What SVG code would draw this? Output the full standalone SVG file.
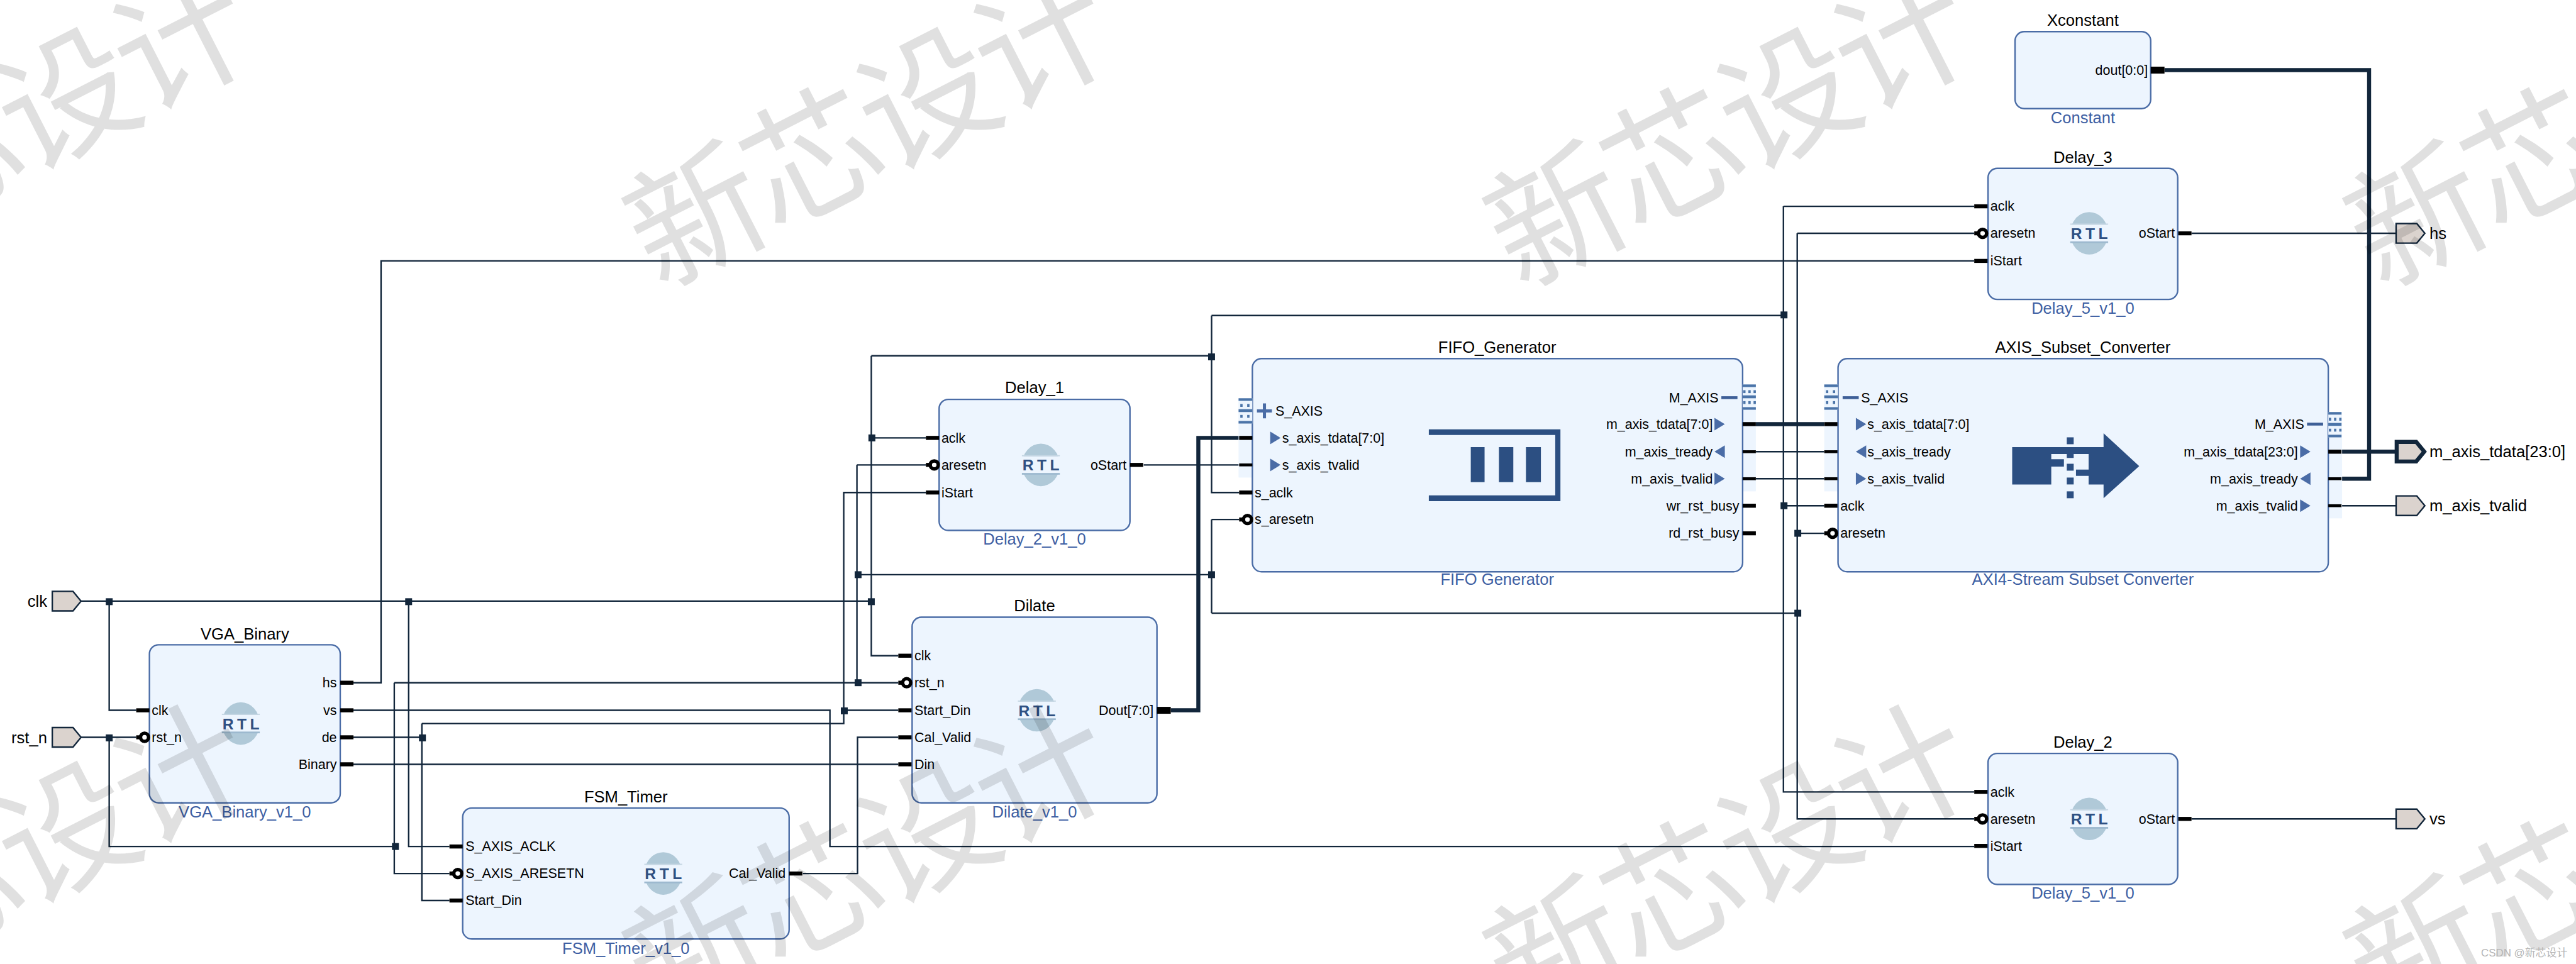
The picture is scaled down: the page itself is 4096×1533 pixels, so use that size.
<svg xmlns="http://www.w3.org/2000/svg" xmlns:xlink="http://www.w3.org/1999/xlink" width="4096" height="1533" viewBox="0 0 4096 1533">
<style>
text{font-family:"Liberation Sans",Arial,"Noto Sans CJK SC",sans-serif;fill:#000}
.t{font-size:28px;text-anchor:middle}
.u{font-size:28px;text-anchor:middle;fill:#3e5fa3}
.p{font-size:23.5px}
.e{text-anchor:end}
.x{font-size:28px}
.box{fill:#edf5fe;stroke:#4a6ca6;stroke-width:2.6}
.w{fill:none;stroke:#12263b;stroke-width:2.6}
.b{fill:none;stroke:#12263b;stroke-width:7}
.ifc{fill:#edf5fe}
.ic{fill:#2c4f82}
.tri{fill:#4a6ca6}
.rtl{font-size:27px;font-weight:bold;fill:#2f5082;letter-spacing:6px}
.wm{font-family:"Noto Sans CJK SC",sans-serif;font-size:235px;letter-spacing:-10px;fill:#000;fill-opacity:.12;text-anchor:middle}
.port{fill:#dbd3ce;stroke:#12263b;stroke-width:2.6}
</style>
<defs>
<rect id="pin" x="0" y="-3.5" width="23" height="7" fill="#000"/>
<rect id="pinb" x="0" y="-2.5" width="23" height="5" fill="#000"/>
<rect id="pinw" x="0" y="-6" width="24" height="12" fill="#000"/>
<g id="bub"><rect x="0" y="-3.5" width="14" height="7" fill="#000"/><circle cx="14.5" cy="0" r="7" fill="#fff" stroke="#000" stroke-width="6"/></g>
<rect id="j" x="-6" y="-6" width="12" height="12" fill="#12263b"/>
<g id="logo"><ellipse cx="0" cy="0" rx="33" ry="37" fill="#b0c9d8"/><rect x="-34" y="-15" width="68" height="30" fill="#edf5fe"/><rect x="-33" y="-17" width="66" height="2" fill="#c5d6e3"/><rect x="-33" y="14" width="66" height="3" fill="#9db9cf"/></g>
<g id="ifl"><rect x="0" y="0" width="24" height="44" fill="#edf5fe"/><rect width="24" height="4.5" fill="#4b74a8"/><rect y="19" width="24" height="5" fill="#4b74a8"/><rect y="39.5" width="24" height="4.5" fill="#4b74a8"/><rect x="3" y="10" width="4" height="5" fill="#4b74a8"/><rect x="15" y="10" width="4" height="5" fill="#4b74a8"/><rect x="3" y="29" width="4" height="5" fill="#4b74a8"/><rect x="15" y="29" width="4" height="5" fill="#4b74a8"/></g>
<g id="ifr"><rect x="0" y="0" width="23" height="44" fill="#edf5fe"/><rect width="23" height="4.5" fill="#4b74a8"/><rect y="19" width="23" height="5" fill="#4b74a8"/><rect y="39.5" width="23" height="4.5" fill="#4b74a8"/><rect x="1" y="10" width="4" height="5" fill="#4b74a8"/><rect x="10" y="10" width="4" height="5" fill="#4b74a8"/><rect x="19" y="10" width="4" height="5" fill="#4b74a8"/><rect x="1" y="29" width="4" height="5" fill="#4b74a8"/><rect x="10" y="29" width="4" height="5" fill="#4b74a8"/><rect x="19" y="29" width="4" height="5" fill="#4b74a8"/></g>
<path id="ar" class="tri" d="M0 -11L18 0L0 11Z"/>
<path id="al" class="tri" d="M18 -11L0 0L18 11Z"/>
<rect id="minus" x="0" y="-2.5" width="28" height="5" fill="#3e5f97"/>
<path id="ext" class="port" d="M0 -17H36L50 0L36 17H0Z"/>
</defs>
<rect width="4096" height="1533" fill="#fff"/>
<g transform="scale(0.91388)">
<g id="connectors">
<path class="w" d="M141 1046H1516M190 1046V1236H237M711 1046V1473H782M1516 619V1141H1563M1516 762H1611M1516 619H2108M2108 549V857H2156M2108 549H3103M3103 359V1378H3435M3103 359H3435M3103 880H3174"/>
<path class="w" d="M141 1283H237M190 1283V1473H686M686 1188V1520H782M686 1188H1563M1491 809V1188M1491 809H1611M1491 1000H2108M2108 904V1067M2108 904H2156M2108 1067H3127M3127 406V1425H3435M3127 406H3435M3127 928H3174"/>
<path class="w" d="M615 1236H1444V1473H3435M615 1188H663V454H3435M615 1283H734M734 1259V1567H782M734 1259H1468V857H1611M1468 1236H1563M615 1330H1563M1397 1520H1492V1283H1563M1990 809H2156M3055 786H3174M3055 833H3174M4075 880H4169M3813 406H4169M3813 1425H4169"/>
<path class="b" d="M2037 1236H2085V762H2156M3055 738H3174M4075 786H4170M4075 833H4122V122H3766"/>
<use href="#j" x="190" y="1047"/><use href="#j" x="711" y="1047"/><use href="#j" x="1516" y="1047"/><use href="#j" x="1517" y="762"/><use href="#j" x="2108" y="621"/><use href="#j" x="3104" y="548"/><use href="#j" x="3104" y="880"/>
<use href="#j" x="190" y="1284"/><use href="#j" x="688" y="1473"/><use href="#j" x="1493" y="1000"/><use href="#j" x="1493" y="1188"/><use href="#j" x="2108" y="1000"/><use href="#j" x="3128" y="1067"/><use href="#j" x="3128" y="928"/>
<use href="#j" x="735" y="1284"/><use href="#j" x="1469" y="1237"/>
</g>

<g id="port-clk"><use href="#ext" x="91" y="1046"/><text class="x e" x="82" y="1056">clk</text></g>
<g id="port-rst_n"><use href="#ext" x="91" y="1283"/><text class="x e" x="82" y="1293">rst_n</text></g>
<g id="port-hs"><use href="#ext" x="4169" y="406"/><text class="x" x="4227" y="416">hs</text></g>
<g id="port-vs"><use href="#ext" x="4169" y="1425"/><text class="x" x="4227" y="1435">vs</text></g>
<g id="port-m_axis_tvalid"><use href="#ext" x="4169" y="880"/><text class="x" x="4227" y="890">m_axis_tvalid</text></g>
<g id="port-m_axis_tdata"><path class="port" style="stroke-width:7" d="M4170 769H4204L4218 786L4204 803H4170Z"/><text class="x" x="4227" y="796">m_axis_tdata[23:0]</text></g>

<g id="VGA_Binary">
<text class="t" x="426" y="1113">VGA_Binary</text>
<rect class="box" x="260" y="1122" width="332" height="275" rx="16"/>
<use href="#pin" x="237" y="1236"/><use href="#bub" x="237" y="1283"/>
<use href="#pin" x="592" y="1188"/><use href="#pin" x="592" y="1236"/><use href="#pin" x="592" y="1283"/><use href="#pin" x="592" y="1330"/>
<text class="p" x="264" y="1244">clk</text><text class="p" x="264" y="1291">rst_n</text>
<text class="p e" x="586" y="1196">hs</text><text class="p e" x="586" y="1244">vs</text><text class="p e" x="586" y="1291">de</text><text class="p e" x="586" y="1338">Binary</text>
<use href="#logo" x="419" y="1259"/><text class="rtl" x="387" y="1269">RTL</text>
<text class="u" x="426" y="1423">VGA_Binary_v1_0</text>
</g>

<g id="FSM_Timer">
<text class="t" x="1089" y="1396">FSM_Timer</text>
<rect class="box" x="805" y="1406" width="568" height="228" rx="16"/>
<use href="#pin" x="782" y="1473"/><use href="#bub" x="782" y="1520"/><use href="#pin" x="782" y="1567"/><use href="#pin" x="1373" y="1520"/>
<text class="p" x="810" y="1481">S_AXIS_ACLK</text><text class="p" x="810" y="1528">S_AXIS_ARESETN</text><text class="p" x="810" y="1575">Start_Din</text>
<text class="p e" x="1367" y="1528">Cal_Valid</text>
<use href="#logo" x="1154" y="1520"/><text class="rtl" x="1122" y="1530">RTL</text>
<text class="u" x="1089" y="1660">FSM_Timer_v1_0</text>
</g>

<g id="Delay_1">
<text class="t" x="1800" y="684">Delay_1</text>
<rect class="box" x="1634" y="695" width="332" height="228" rx="16"/>
<use href="#pin" x="1611" y="762"/><use href="#bub" x="1611" y="809"/><use href="#pin" x="1611" y="857"/><use href="#pin" x="1966" y="809"/>
<text class="p" x="1638" y="770">aclk</text><text class="p" x="1638" y="817">aresetn</text><text class="p" x="1638" y="865">iStart</text>
<text class="p e" x="1960" y="817">oStart</text>
<use href="#logo" x="1811" y="809"/><text class="rtl" x="1779" y="819">RTL</text>
<text class="u" x="1800" y="948">Delay_2_v1_0</text>
</g>

<g id="Dilate">
<text class="t" x="1800" y="1064">Dilate</text>
<rect class="box" x="1587" y="1074" width="426" height="323" rx="16"/>
<use href="#pin" x="1563" y="1141"/><use href="#bub" x="1563" y="1188"/><use href="#pin" x="1563" y="1236"/><use href="#pin" x="1563" y="1283"/><use href="#pin" x="1563" y="1330"/><use href="#pinw" x="2013" y="1236"/>
<text class="p" x="1591" y="1149">clk</text><text class="p" x="1591" y="1196">rst_n</text><text class="p" x="1591" y="1244">Start_Din</text><text class="p" x="1591" y="1291">Cal_Valid</text><text class="p" x="1591" y="1338">Din</text>
<text class="p e" x="2007" y="1244">Dout[7:0]</text>
<use href="#logo" x="1804" y="1236"/><text class="rtl" x="1772" y="1246">RTL</text>
<text class="u" x="1800" y="1422">Dilate_v1_0</text>
</g>

<g id="FIFO_Generator">
<text class="t" x="2605" y="614">FIFO_Generator</text>
<rect class="ifc" x="2155" y="693" width="24" height="138"/><rect class="ifc" x="3032" y="669" width="23" height="186"/>
<rect class="box" x="2179" y="624" width="853" height="371" rx="16"/>
<use href="#ifl" x="2155" y="693"/><use href="#ifr" x="3032" y="669"/>
<path d="M2187 715H2213M2200 702V728" stroke="#4a6ca6" stroke-width="5.5" fill="none"/>
<use href="#minus" x="2995" y="692"/>
<use href="#pin" x="2156" y="762"/><use href="#pinb" x="2156" y="809"/><use href="#pin" x="2156" y="857"/><use href="#bub" x="2156" y="904"/>
<use href="#pin" x="3032" y="738"/><use href="#pinb" x="3032" y="786"/><use href="#pinb" x="3032" y="833"/><use href="#pin" x="3032" y="880"/><use href="#pin" x="3032" y="928"/>
<use href="#ar" x="2210" y="762"/><use href="#ar" x="2210" y="809"/><use href="#ar" x="2983" y="738"/><use href="#al" x="2983" y="786"/><use href="#ar" x="2983" y="833"/>
<text class="p" x="2219" y="723">S_AXIS</text><text class="p" x="2231" y="770">s_axis_tdata[7:0]</text><text class="p" x="2231" y="817">s_axis_tvalid</text><text class="p" x="2183" y="865">s_aclk</text><text class="p" x="2183" y="912">s_aresetn</text>
<text class="p e" x="2990" y="700">M_AXIS</text><text class="p e" x="2980" y="746">m_axis_tdata[7:0]</text><text class="p e" x="2980" y="794">m_axis_tready</text><text class="p e" x="2980" y="841">m_axis_tvalid</text><text class="p e" x="3026" y="888">wr_rst_busy</text><text class="p e" x="3026" y="936">rd_rst_busy</text>
<path class="ic" d="M2486 747H2715V872H2486V862H2706V757H2486Z"/>
<rect class="ic" x="2559" y="778" width="24" height="61"/><rect class="ic" x="2608" y="778" width="25" height="61"/><rect class="ic" x="2655" y="778" width="26" height="61"/>
<text class="u" x="2605" y="1018">FIFO Generator</text>
</g>

<g id="AXIS_Subset_Converter">
<text class="t" x="3624" y="614">AXIS_Subset_Converter</text>
<rect class="ifc" x="3174" y="669" width="24" height="186"/><rect class="ifc" x="4051" y="717" width="24" height="185"/>
<rect class="box" x="3198" y="624" width="853" height="371" rx="16"/>
<use href="#ifl" x="3174" y="669"/><use href="#ifr" x="4051" y="717"/>
<use href="#minus" x="3206" y="692"/><use href="#minus" x="4014" y="738"/>
<use href="#pin" x="3174" y="738"/><use href="#pinb" x="3174" y="786"/><use href="#pinb" x="3174" y="833"/><use href="#pin" x="3174" y="880"/><use href="#bub" x="3174" y="928"/>
<use href="#pin" x="4051" y="786"/><use href="#pinb" x="4051" y="833"/><use href="#pinb" x="4051" y="880"/>
<use href="#ar" x="3229" y="738"/><use href="#al" x="3229" y="786"/><use href="#ar" x="3229" y="833"/>
<use href="#ar" x="4002" y="786"/><use href="#al" x="4002" y="833"/><use href="#ar" x="4002" y="880"/>
<text class="p" x="3238" y="700">S_AXIS</text><text class="p" x="3249" y="746">s_axis_tdata[7:0]</text><text class="p" x="3249" y="794">s_axis_tready</text><text class="p" x="3249" y="841">s_axis_tvalid</text><text class="p" x="3202" y="888">aclk</text><text class="p" x="3202" y="936">aresetn</text>
<text class="p e" x="4009" y="746">M_AXIS</text><text class="p e" x="3998" y="794">m_axis_tdata[23:0]</text><text class="p e" x="3998" y="841">m_axis_tready</text><text class="p e" x="3998" y="888">m_axis_tvalid</text>
<path class="ic" d="M3501 778H3660V754L3722 811L3660 867V843H3634V828H3612V817H3634V790H3608V797H3596V790H3569V799H3591V812H3569V843H3501Z"/>
<rect class="ic" x="3596" y="761" width="12" height="12"/><rect class="ic" x="3596" y="807" width="12" height="12"/><rect class="ic" x="3596" y="831" width="12" height="12"/><rect class="ic" x="3596" y="855" width="12" height="12"/>
<text class="u" x="3624" y="1018">AXI4-Stream Subset Converter</text>
</g>

<g id="Xconstant">
<text class="t" x="3624" y="45">Xconstant</text>
<rect class="box" x="3506" y="55" width="236" height="134" rx="16"/>
<use href="#pinw" x="3742" y="122"/>
<text class="p e" x="3737" y="130">dout[0:0]</text>
<text class="u" x="3624" y="214">Constant</text>
</g>

<g id="Delay_3">
<text class="t" x="3624" y="283">Delay_3</text>
<rect class="box" x="3459" y="293" width="330" height="228" rx="16"/>
<use href="#pin" x="3435" y="359"/><use href="#bub" x="3435" y="406"/><use href="#pin" x="3435" y="454"/><use href="#pin" x="3790" y="406"/>
<text class="p" x="3463" y="367">aclk</text><text class="p" x="3463" y="414">aresetn</text><text class="p" x="3463" y="462">iStart</text>
<text class="p e" x="3784" y="414">oStart</text>
<use href="#logo" x="3635" y="406"/><text class="rtl" x="3603" y="416">RTL</text>
<text class="u" x="3624" y="546">Delay_5_v1_0</text>
</g>

<g id="Delay_2">
<text class="t" x="3624" y="1301">Delay_2</text>
<rect class="box" x="3459" y="1311" width="330" height="228" rx="16"/>
<use href="#pin" x="3435" y="1378"/><use href="#bub" x="3435" y="1425"/><use href="#pin" x="3435" y="1472"/><use href="#pin" x="3790" y="1425"/>
<text class="p" x="3463" y="1386">aclk</text><text class="p" x="3463" y="1433">aresetn</text><text class="p" x="3463" y="1480">iStart</text>
<text class="p e" x="3784" y="1433">oStart</text>
<use href="#logo" x="3635" y="1425"/><text class="rtl" x="3603" y="1435">RTL</text>
<text class="u" x="3624" y="1564">Delay_5_v1_0</text>
</g>

<g id="watermark">
<text class="wm" transform="translate(13,228) rotate(-27)" y="82">新芯设计</text>
<text class="wm" transform="translate(1510,228) rotate(-27)" y="82">新芯设计</text>
<text class="wm" transform="translate(3007,228) rotate(-27)" y="82">新芯设计</text>
<text class="wm" transform="translate(4504,228) rotate(-27)" y="82">新芯设计</text>
<text class="wm" transform="translate(13,1505) rotate(-27)" y="82">新芯设计</text>
<text class="wm" transform="translate(1510,1505) rotate(-27)" y="82">新芯设计</text>
<text class="wm" transform="translate(3007,1505) rotate(-27)" y="82">新芯设计</text>
<text class="wm" transform="translate(4504,1505) rotate(-27)" y="82">新芯设计</text>
<text x="4467" y="1664" style="font-size:18.5px;fill:#b5b5b5;text-anchor:end">CSDN @新芯设计</text>
</g>
</g>
</svg>
